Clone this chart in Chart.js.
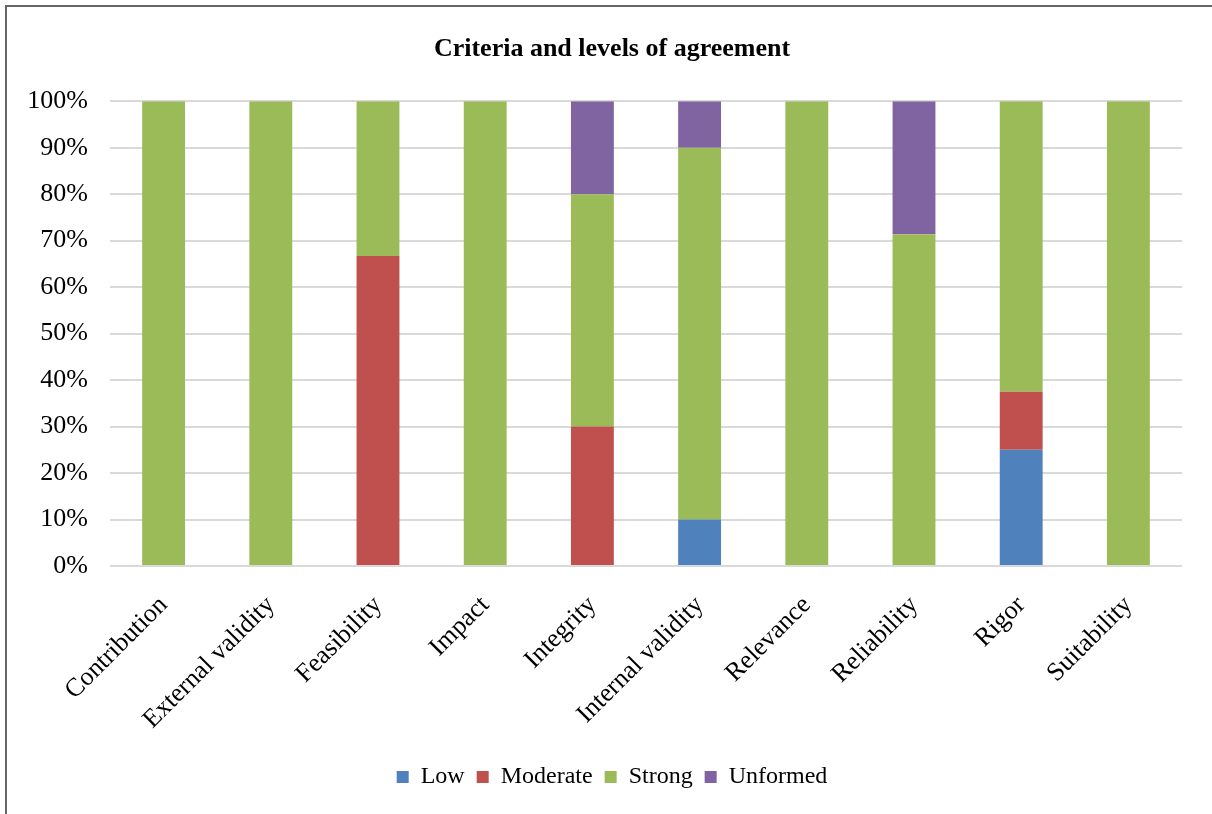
<!DOCTYPE html>
<html>
<head>
<meta charset="utf-8">
<script src="https://cdn.jsdelivr.net/npm/chart.js@4"></script>
<style>
  html, body { margin: 0; padding: 0; background: #fff; overflow: hidden; }
  #wrap { position: relative; width: 1212px; height: 814px; }
  #frame { position: absolute; left: 5px; top: 5px; width: 1230px; height: 830px; border: 2px solid #666; box-sizing: border-box; }
  canvas { position: absolute; left: 0; top: 0; }
</style>
</head>
<body>
<div id="wrap">
  <div id="frame"></div>
  <canvas id="barChart" width="1212" height="814"></canvas>
</div>
<script>
var criteria = ['Contribution', 'External validity', 'Feasibility', 'Impact', 'Integrity',
                'Internal validity', 'Relevance', 'Reliability', 'Rigor', 'Suitability'];
var low      = [0, 0, 0,     0, 0,  10, 0, 0,     25,   0];
var moderate = [0, 0, 66.7,  0, 30, 0,  0, 0,     12.5, 0];
var strong   = [100, 100, 33.3, 100, 50, 80, 100, 71.4, 62.5, 100];
var unformed = [0, 0, 0,     0, 20, 10, 0, 28.6,  0,    0];
var yTicks = [0, 10, 20, 30, 40, 50, 60, 70, 80, 90, 100];

var serif = "'Liberation Serif', 'Times New Roman', serif";

function series(label, data, color) {
    return {
        label: label,
        data: data,
        backgroundColor: color,
        borderWidth: 0,
        barPercentage: 0.4,
        categoryPercentage: 1
    };
}

// centre title and legend on the whole frame instead of the plot + axis box
var centreBlocks = {
    id: 'centreBlocks',
    afterLayout: function (chart) {
        if (chart.titleBlock) chart.titleBlock.left += 42;
        if (chart.legend) chart.legend.left += 42;
    }
};

var ctx = document.getElementById('barChart').getContext('2d');
var myChart = new Chart(ctx, {
    type: 'bar',
    data: {
        labels: criteria,
        datasets: [
            series('Low', low, '#4F81BD'),
            series('Moderate', moderate, '#C0504D'),
            series('Strong', strong, '#9BBB59'),
            series('Unformed', unformed, '#8064A2')
        ]
    },
    plugins: [centreBlocks],
    options: {
        responsive: false,
        animation: false,
        layout: { padding: { left: 0, right: 30, top: 0, bottom: 15 } },
        plugins: {
            title: {
                display: true,
                text: 'Criteria and levels of agreement',
                color: '#000',
                font: { family: serif, size: 26, weight: 'bold' },
                padding: { top: 34, bottom: 36 }
            },
            legend: {
                position: 'bottom',
                labels: {
                    color: '#000',
                    font: { family: serif, size: 24 },
                    boxWidth: 12,
                    boxHeight: 12,
                    padding: 12
                }
            },
            tooltip: { enabled: false }
        },
        scales: {
            x: {
                stacked: true,
                grid: { display: false, drawTicks: false },
                border: { display: false },
                ticks: {
                    color: '#000',
                    font: { family: serif, size: 26 },
                    minRotation: 45,
                    maxRotation: 45,
                    padding: 24
                },
                afterFit: function (scale) { scale.height = 187; }
            },
            y: {
                stacked: true,
                min: 0,
                max: 100,
                afterBuildTicks: function (scale) {
                    scale.ticks = yTicks.map(function (v) { return { value: v }; });
                },
                grid: { color: '#d9d9d9', lineWidth: 2, drawTicks: false },
                border: { display: false },
                ticks: {
                    color: '#000',
                    font: { family: serif, size: 26 },
                    padding: 22,
                    callback: function (v) { return v + '%'; }
                },
                afterFit: function (scale) { scale.width = 110; }
            }
        }
    }
});
</script>
</body>
</html>
